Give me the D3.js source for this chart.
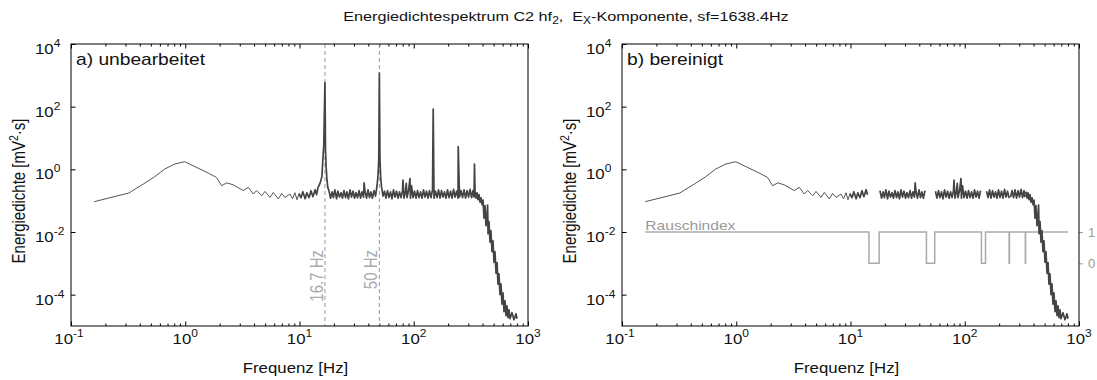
<!DOCTYPE html>
<html>
<head>
<meta charset="utf-8">
<script src="https://cdnjs.cloudflare.com/ajax/libs/d3/7.8.5/d3.min.js"></script>
<style>
  body { margin: 0; background: #fff; }
  svg { display: block; font-family: "Liberation Sans", Arial, sans-serif; }
  text { white-space: pre; }
</style>
</head>
<body>
<div id="chart"></div>
<script>
// spectrum (Hz, mV^2 s)
const specFreq = [
  0.16, 0.32, 0.43, 0.54, 0.66, 0.81, 0.99, 1.22, 1.59, 1.88,
  2.08, 2.31, 2.63, 3.22, 3.56, 3.94, 4.22, 4.67, 4.99, 5.52,
  5.90, 6.53, 6.98, 7.46, 8.26, 8.69, 9.13, 9.51, 9.90, 10.3,
  10.7, 11.2, 11.6, 12.1, 12.6, 13.1, 13.7, 14.1, 14.5, 15.1,
  15.7, 16.0, 16.3, 16.7, 16.9, 17.1, 17.4, 17.7,
  18.1, 18.7, 19.3, 19.8, 20.4, 21.1, 21.7, 22.4, 23.1, 23.8,
  24.5, 25.3, 26.0, 26.8, 27.7, 28.5, 29.4, 30.3, 31.2, 32.2,
  33.2, 34.2, 35.2, 36.3, 36.8, 37.4, 38.6, 39.8, 41.0, 42.2,
  43.5, 44.9, 46.3, 47.7, 48.6, 49.4, 50.0, 50.6, 51.4, 52.2,
  53.8, 55.4, 57.1, 58.9, 60.7, 62.6, 64.5, 66.5, 68.6, 70.7,
  72.8, 75.1, 77.4, 79.7, 80.5, 82.2, 84.7, 86.0, 87.3, 90.0,
  92.7, 93.5, 95.6, 98.5, 101.6, 104.7, 107.9, 111.2, 114.7, 118.2,
  121.8, 125.6, 129.4, 133.4, 137.5, 141.7, 146.0, 148, 150.5, 155.1,
  159.9, 164.8, 169.8, 175.0, 180.4, 185.9, 191.6, 197.5, 203.6, 209.9,
  216.3, 223.0, 229.8, 236.9, 244.1, 245, 251.6, 259.4, 267.3, 275.5,
  284.1, 292.8, 301.8, 311.1, 320.6, 330, 337, 340, 344, 351,
  358, 365, 373, 380, 388, 396, 404, 412, 420, 429,
  438, 443, 447, 456, 465, 474, 484, 494, 504, 514,
  525, 536, 546, 557, 569, 580, 592, 604, 617, 629,
  642, 655, 668, 682, 696, 724, 754, 785, 801
]
const specDens = [
  0.093, 0.175, 0.34, 0.58, 1.02, 1.48, 1.75, 1.21, 0.76, 0.55,
  0.30, 0.37, 0.32, 0.21, 0.265, 0.163, 0.21, 0.144, 0.197, 0.127,
  0.183, 0.113, 0.17, 0.127, 0.163, 0.115, 0.179, 0.107, 0.167, 0.124,
  0.193, 0.115, 0.179, 0.124, 0.208, 0.134, 0.224, 0.155, 0.259, 0.35,
  0.58, 1.9, 5.7, 590, 4.0, 1.2, 0.45, 0.26,
  0.21, 0.12, 0.19, 0.125, 0.22, 0.115, 0.2, 0.13, 0.18, 0.12,
  0.21, 0.125, 0.19, 0.115, 0.22, 0.13, 0.2, 0.12, 0.18, 0.125,
  0.21, 0.12, 0.19, 0.13, 0.37, 0.2, 0.12, 0.22, 0.125, 0.19,
  0.12, 0.21, 0.14, 0.3, 0.6, 2.1, 1180, 2.0, 0.55, 0.28,
  0.14, 0.2, 0.12, 0.21, 0.125, 0.19, 0.115, 0.22, 0.13, 0.2,
  0.12, 0.19, 0.125, 0.21, 0.45, 0.12, 0.2, 0.36, 0.125, 0.21,
  0.51, 0.12, 0.3, 0.125, 0.2, 0.12, 0.21, 0.125, 0.19, 0.12,
  0.22, 0.13, 0.2, 0.12, 0.21, 0.125, 0.22, 84, 0.12, 0.2,
  0.125, 0.22, 0.12, 0.21, 0.13, 0.19, 0.12, 0.22, 0.125, 0.2,
  0.12, 0.23, 0.13, 0.2, 0.12, 5.3, 0.13, 0.21, 0.125, 0.22,
  0.12, 0.21, 0.13, 0.23, 0.125, 0.208, 0.129, 1.48, 0.193, 0.12,
  0.179, 0.107, 0.155, 0.089, 0.124, 0.075, 0.105, 0.0275, 0.069, 0.0158,
  0.0383, 0.072, 0.0088, 0.0213, 0.00472, 0.011, 0.00235, 0.00526, 0.00108, 0.00235,
  4.8e-4, 1.05e-3, 2.15e-4, 4.66e-4, 1.0e-4, 2.23e-4, 4.95e-5, 1.15e-4, 2.85e-5, 6.4e-5,
  2.13e-5, 4.4e-5, 1.84e-5, 3.3e-5, 1.7e-5, 2.65e-5, 1.58e-5, 2.47e-5, 1.7e-5
]
// above this frequency the spectrum is a dense band
const denseFrom = 9.9

// noise index (1 = clean, 0 = disturbed), step after each frequency
const idxFreq = [0.16, 14.5, 17.8, 46.2, 54.6, 140, 152, 244.5, 246, 339, 341, 800]
const idxVal = [1, 0, 1, 0, 1, 0, 1, 0, 1, 0, 1, 1]

const markFreq = [16.7, 50]
const markLabels = ["16.7 Hz", "50 Hz"]

const xTickExp = [-1, 0, 1, 2, 3]
const yTickExp = [4, 2, 0, -2, -4]
const idxTicks = [0, 1]

const panels = [
  { x0: 71, label: "a) unbearbeitet", cleaned: false },
  { x0: 622, label: "b) bereinigt", cleaned: true }
]

const W = 457, H = 282, TOP = 44
const SX = 1.2   // picture is stretched horizontally
const grey = "#999"

const x = d3.scaleLog().domain([0.1, 1000]).range([0, W])
const y = d3.scaleLog().domain([1e-5, 1e4]).range([H, 0])
const yIdx = d3.scaleLinear().domain([0, 1]).range([y(1e-3), y(1e-2)])

const svg = d3.select("#chart").append("svg")
  .attr("width", 1097).attr("height", 380)

function stext(sel, tx, ty, size, anchor, fill) {
  return sel.append("text")
    .attr("transform", `translate(${tx},${ty}) scale(${SX},1)`)
    .attr("font-size", size)
    .attr("text-anchor", anchor)
    .attr("fill", fill || "#111")
}

function rtext(sel, tx, ty, size, anchor, fill) {
  return sel.append("text")
    .attr("transform", `translate(${tx},${ty}) rotate(-90) scale(1,${SX})`)
    .attr("font-size", size)
    .attr("text-anchor", anchor)
    .attr("fill", fill || "#111")
}

function pow10(t, e) {
  t.append("tspan").text("10")
  t.append("tspan").attr("font-size", 10).attr("dy", -7).text(String(e))
}

// title
const title = stext(svg, 566, 21, 13.5, "middle")
title.append("tspan").text("Energiedichtespektrum C2 hf")
title.append("tspan").attr("font-size", 10).attr("dy", 3).text("2")
title.append("tspan").attr("dy", -3).text(",  E")
title.append("tspan").attr("font-size", 10).attr("dy", 3).text("X")
title.append("tspan").attr("dy", -3).text("-Komponente, sf=1638.4Hz")

const pts = specFreq.map((f, i) => ({ f, v: specDens[i] }))

// disturbed intervals come from the noise index
const gaps = []
idxVal.forEach((v, i) => { if (v === 0) gaps.push([idxFreq[i], idxFreq[i + 1]]) })
const inGap = f => gaps.some(([a, b]) => f >= a && f <= b)

const majors = xTickExp.map(e => Math.pow(10, e))
const minors = []
majors.slice(0, -1).forEach(d => { for (let k = 2; k <= 9; k++) minors.push(d * k) })

panels.forEach(p => {
  const g = svg.append("g").attr("transform", `translate(${p.x0},${TOP})`)

  // ticks, inside the box
  const axes = [[d3.axisBottom, H], [d3.axisTop, 0]]
  axes.forEach(([ax, ty]) => {
    g.append("g").attr("transform", `translate(0,${ty})`)
      .call(ax(x).tickValues(majors).tickSize(-4.5).tickSizeOuter(0).tickFormat(""))
      .call(s => s.select(".domain").remove())
    g.append("g").attr("transform", `translate(0,${ty})`)
      .call(ax(x).tickValues(minors).tickSize(-2.5).tickSizeOuter(0).tickFormat(""))
      .call(s => s.select(".domain").remove())
  })
  g.append("g")
    .call(d3.axisLeft(y).tickValues(yTickExp.map(e => Math.pow(10, e))).tickSize(-4.5).tickSizeOuter(0).tickFormat(""))
    .call(s => s.select(".domain").remove())

  // tick labels
  xTickExp.forEach(e => {
    const t = stext(g, x(Math.pow(10, e)) - (e < 0 ? 2 : 0), H + 17.5, 14, "middle")
    pow10(t, e)
  })
  yTickExp.forEach(e => {
    const t = stext(g, -36, y(Math.pow(10, e)) + 10, 14, "start")
    pow10(t, e)
  })

  // axis titles
  stext(g, 224.5, H + 47, 14, "middle").text("Frequenz [Hz]")
  const yl = rtext(g, -46, 147, 15, "middle")
  yl.append("tspan").text("Energiedichte [mV")
  yl.append("tspan").attr("font-size", 10.5).attr("dy", -6).text("2")
  yl.append("tspan").attr("dy", 6).text("·s]")

  // marker lines for 16.7 Hz and 50 Hz
  if (!p.cleaned) {
    markFreq.forEach((f, i) => {
      g.append("line")
        .attr("x1", x(f)).attr("x2", x(f))
        .attr("y1", 0).attr("y2", H)
        .attr("stroke", grey).attr("stroke-width", 1)
        .attr("stroke-dasharray", "4,3")
      rtext(g, x(f) - 2, 206, 15, "end", "#aaa").text(markLabels[i])
    })
  }

  // noise index
  if (p.cleaned) {
    const idxPts = idxFreq.map((f, i) => ({ f, v: idxVal[i] }))
    g.append("path")
      .attr("d", d3.line().curve(d3.curveStepAfter).x(d => x(d.f)).y(d => yIdx(d.v))(idxPts))
      .attr("fill", "none")
      .attr("stroke", "#aaa")
      .attr("stroke-width", 1.5)
    stext(g, x(0.16), yIdx(1) - 2.5, 13, "start", grey).text("Rauschindex")
    g.append("g").attr("transform", `translate(${W},0)`)
      .call(d3.axisRight(yIdx).tickValues(idxTicks).tickSize(4).tickPadding(5).tickFormat(d3.format("d")))
      .call(s => s.select(".domain").remove())
      .call(s => s.selectAll("line").attr("stroke", grey))
      .call(s => s.selectAll("text").attr("fill", grey).attr("font-size", 13)
        .attr("font-family", "Liberation Sans, Arial, sans-serif"))
  }

  // spectrum: thin line at low frequencies, dense band above
  const keep = d => !p.cleaned || !inGap(d.f)
  const thin = d3.line().defined(d => keep(d) && d.f <= 10.3).x(d => x(d.f)).y(d => y(d.v))
  const dense = d3.line().defined(d => keep(d) && d.f >= denseFrom).x(d => x(d.f)).y(d => y(d.v))
  g.append("path")
    .attr("d", thin(pts))
    .attr("fill", "none")
    .attr("stroke", "#555")
    .attr("stroke-width", 1)
  g.append("path")
    .attr("d", dense(pts))
    .attr("fill", "none")
    .attr("stroke", "#444")
    .attr("stroke-width", 1.7)
    .attr("stroke-linejoin", "round")

  // frame and panel label
  g.append("rect")
    .attr("width", W).attr("height", H)
    .attr("fill", "none").attr("stroke", "#000").attr("stroke-width", 1)
  stext(g, 5, 21, 16, "start").text(p.label)
})
</script>
</body>
</html>
